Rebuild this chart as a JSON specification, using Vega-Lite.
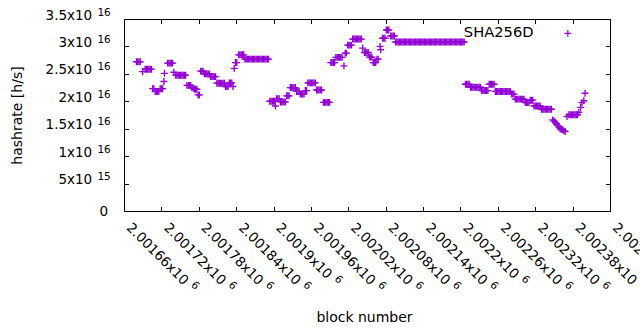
{
"$schema": "https://vega.github.io/schema/vega-lite/v6.json",
"width": 486, "height": 192,
"autosize": {"type": "none"},
"padding": {"left": 124, "top": 19, "right": 30, "bottom": 119},
"background": "white",
"config": {"view": {"stroke": "#000", "strokeWidth": 1}, "font": "DejaVu Sans",
  "axis": {"labelFont": "DejaVu Sans", "titleFont": "DejaVu Sans", "labelColor": "#000", "titleColor": "#000", "tickColor": "#000", "tickWidth": 1, "titleFontWeight": "normal", "grid": false, "domain": false, "labelFlush": false, "labelOverlap": false, "labelBound": false}},
"data": {"values": [
{"block":2001680,"hashrate":2.72e16},{"block":2001682,"hashrate":2.72e16},{"block":2001684,"hashrate":2.72e16},{"block":2001686,"hashrate":2.72e16},
{"block":2001690,"hashrate":2.54e16},
{"block":2001694,"hashrate":2.585e16},{"block":2001696,"hashrate":2.585e16},{"block":2001698,"hashrate":2.585e16},{"block":2001700,"hashrate":2.585e16},{"block":2001702,"hashrate":2.585e16},{"block":2001704,"hashrate":2.585e16},
{"block":2001706,"hashrate":2.23e16},{"block":2001708,"hashrate":2.23e16},
{"block":2001710,"hashrate":2.18e16},{"block":2001712,"hashrate":2.18e16},{"block":2001714,"hashrate":2.18e16},{"block":2001716,"hashrate":2.18e16},
{"block":2001718,"hashrate":2.23e16},{"block":2001720,"hashrate":2.23e16},{"block":2001722,"hashrate":2.23e16},
{"block":2001724,"hashrate":2.36e16},{"block":2001725,"hashrate":2.51e16},
{"block":2001730,"hashrate":2.695e16},{"block":2001732,"hashrate":2.695e16},{"block":2001734,"hashrate":2.695e16},{"block":2001736,"hashrate":2.695e16},{"block":2001738,"hashrate":2.695e16},
{"block":2001740,"hashrate":2.53e16},
{"block":2001743,"hashrate":2.476e16},{"block":2001745,"hashrate":2.476e16},{"block":2001747,"hashrate":2.476e16},{"block":2001749,"hashrate":2.476e16},{"block":2001751,"hashrate":2.476e16},{"block":2001753,"hashrate":2.476e16},{"block":2001755,"hashrate":2.476e16},{"block":2001757,"hashrate":2.476e16},{"block":2001759,"hashrate":2.476e16},
{"block":2001761,"hashrate":2.29e16},{"block":2001763,"hashrate":2.29e16},{"block":2001765,"hashrate":2.29e16},{"block":2001767,"hashrate":2.29e16},
{"block":2001769,"hashrate":2.245e16},{"block":2001771,"hashrate":2.245e16},
{"block":2001773,"hashrate":2.22e16},{"block":2001775,"hashrate":2.22e16},{"block":2001777,"hashrate":2.22e16},
{"block":2001779,"hashrate":2.116e16},{"block":2001781,"hashrate":2.116e16},
{"block":2001783,"hashrate":2.55e16},{"block":2001785,"hashrate":2.55e16},{"block":2001787,"hashrate":2.55e16},
{"block":2001789,"hashrate":2.5e16},{"block":2001791,"hashrate":2.5e16},{"block":2001793,"hashrate":2.5e16},{"block":2001795,"hashrate":2.5e16},{"block":2001797,"hashrate":2.5e16},
{"block":2001799,"hashrate":2.45e16},{"block":2001801,"hashrate":2.45e16},{"block":2001803,"hashrate":2.45e16},{"block":2001805,"hashrate":2.45e16},{"block":2001807,"hashrate":2.45e16},
{"block":2001809,"hashrate":2.33e16},{"block":2001811,"hashrate":2.33e16},{"block":2001813,"hashrate":2.33e16},{"block":2001815,"hashrate":2.33e16},{"block":2001817,"hashrate":2.33e16},{"block":2001819,"hashrate":2.33e16},{"block":2001821,"hashrate":2.33e16},
{"block":2001823,"hashrate":2.27e16},{"block":2001825,"hashrate":2.27e16},{"block":2001827,"hashrate":2.27e16},
{"block":2001829,"hashrate":2.335e16},{"block":2001831,"hashrate":2.335e16},{"block":2001833,"hashrate":2.335e16},
{"block":2001835,"hashrate":2.27e16},
{"block":2001837,"hashrate":2.6e16},
{"block":2001839,"hashrate":2.706e16},{"block":2001841,"hashrate":2.706e16},
{"block":2001844,"hashrate":2.847e16},{"block":2001846,"hashrate":2.847e16},{"block":2001848,"hashrate":2.847e16},{"block":2001850,"hashrate":2.847e16},{"block":2001852,"hashrate":2.847e16},
{"block":2001854,"hashrate":2.768e16},{"block":2001856,"hashrate":2.768e16},{"block":2001858,"hashrate":2.768e16},{"block":2001860,"hashrate":2.768e16},{"block":2001862,"hashrate":2.768e16},{"block":2001864,"hashrate":2.768e16},{"block":2001866,"hashrate":2.768e16},{"block":2001868,"hashrate":2.768e16},{"block":2001870,"hashrate":2.768e16},{"block":2001872,"hashrate":2.768e16},{"block":2001874,"hashrate":2.768e16},{"block":2001876,"hashrate":2.768e16},{"block":2001878,"hashrate":2.768e16},{"block":2001880,"hashrate":2.768e16},{"block":2001882,"hashrate":2.768e16},{"block":2001884,"hashrate":2.768e16},{"block":2001886,"hashrate":2.768e16},{"block":2001888,"hashrate":2.768e16},{"block":2001890,"hashrate":2.768e16},{"block":2001892,"hashrate":2.768e16},
{"block":2001894,"hashrate":2.0e16},{"block":2001896,"hashrate":2.0e16},{"block":2001898,"hashrate":2.0e16},{"block":2001900,"hashrate":2.0e16},{"block":2001902,"hashrate":2.0e16},
{"block":2001903,"hashrate":1.914e16},
{"block":2001905,"hashrate":2.048e16},{"block":2001907,"hashrate":2.048e16},{"block":2001909,"hashrate":2.048e16},
{"block":2001911,"hashrate":1.988e16},{"block":2001913,"hashrate":1.988e16},{"block":2001915,"hashrate":1.988e16},{"block":2001917,"hashrate":1.988e16},{"block":2001919,"hashrate":1.988e16},
{"block":2001921,"hashrate":2.1e16},{"block":2001923,"hashrate":2.1e16},{"block":2001925,"hashrate":2.1e16},
{"block":2001927,"hashrate":2.25e16},{"block":2001929,"hashrate":2.25e16},{"block":2001931,"hashrate":2.25e16},{"block":2001933,"hashrate":2.25e16},{"block":2001935,"hashrate":2.25e16},
{"block":2001937,"hashrate":2.18e16},{"block":2001939,"hashrate":2.18e16},{"block":2001941,"hashrate":2.18e16},
{"block":2001943,"hashrate":2.13e16},{"block":2001945,"hashrate":2.13e16},{"block":2001947,"hashrate":2.13e16},{"block":2001949,"hashrate":2.13e16},
{"block":2001951,"hashrate":2.195e16},{"block":2001953,"hashrate":2.195e16},
{"block":2001955,"hashrate":2.335e16},{"block":2001957,"hashrate":2.335e16},{"block":2001959,"hashrate":2.335e16},{"block":2001961,"hashrate":2.335e16},{"block":2001963,"hashrate":2.335e16},{"block":2001965,"hashrate":2.335e16},{"block":2001967,"hashrate":2.335e16},
{"block":2001969,"hashrate":2.205e16},{"block":2001971,"hashrate":2.205e16},{"block":2001973,"hashrate":2.205e16},{"block":2001975,"hashrate":2.205e16},{"block":2001977,"hashrate":2.205e16},
{"block":2001980,"hashrate":1.98e16},{"block":2001982,"hashrate":1.98e16},{"block":2001984,"hashrate":1.98e16},{"block":2001986,"hashrate":1.98e16},{"block":2001988,"hashrate":1.98e16},{"block":2001990,"hashrate":1.98e16},
{"block":2001992,"hashrate":2.706e16},{"block":2001994,"hashrate":2.706e16},{"block":2001996,"hashrate":2.706e16},{"block":2001998,"hashrate":2.706e16},
{"block":2002000,"hashrate":2.8e16},{"block":2002002,"hashrate":2.8e16},{"block":2002004,"hashrate":2.8e16},{"block":2002006,"hashrate":2.8e16},{"block":2002008,"hashrate":2.8e16},{"block":2002010,"hashrate":2.8e16},
{"block":2002013,"hashrate":2.646e16},
{"block":2002015,"hashrate":2.878e16},{"block":2002017,"hashrate":2.878e16},
{"block":2002019,"hashrate":3.024e16},{"block":2002021,"hashrate":3.024e16},{"block":2002023,"hashrate":3.024e16},{"block":2002025,"hashrate":3.024e16},
{"block":2002027,"hashrate":3.134e16},{"block":2002029,"hashrate":3.134e16},{"block":2002031,"hashrate":3.134e16},{"block":2002033,"hashrate":3.134e16},{"block":2002035,"hashrate":3.134e16},{"block":2002037,"hashrate":3.134e16},{"block":2002039,"hashrate":3.134e16},{"block":2002041,"hashrate":3.134e16},
{"block":2002043,"hashrate":2.97e16},
{"block":2002046,"hashrate":2.89e16},{"block":2002048,"hashrate":2.89e16},{"block":2002050,"hashrate":2.89e16},{"block":2002052,"hashrate":2.89e16},
{"block":2002054,"hashrate":2.805e16},{"block":2002056,"hashrate":2.805e16},{"block":2002058,"hashrate":2.805e16},
{"block":2002060,"hashrate":2.706e16},{"block":2002062,"hashrate":2.706e16},{"block":2002064,"hashrate":2.706e16},
{"block":2002066,"hashrate":2.768e16},{"block":2002068,"hashrate":2.768e16},
{"block":2002071,"hashrate":3.0e16},{"block":2002072,"hashrate":2.94e16},
{"block":2002075,"hashrate":3.15e16},{"block":2002077,"hashrate":3.15e16},{"block":2002079,"hashrate":3.15e16},
{"block":2002081,"hashrate":3.3e16},{"block":2002083,"hashrate":3.3e16},{"block":2002085,"hashrate":3.3e16},
{"block":2002088,"hashrate":3.19e16},{"block":2002090,"hashrate":3.19e16},{"block":2002092,"hashrate":3.19e16},{"block":2002094,"hashrate":3.19e16},
{"block":2002096,"hashrate":3.08e16},{"block":2002098,"hashrate":3.08e16},{"block":2002100,"hashrate":3.08e16},{"block":2002102,"hashrate":3.08e16},{"block":2002104,"hashrate":3.08e16},{"block":2002106,"hashrate":3.08e16},{"block":2002108,"hashrate":3.08e16},{"block":2002110,"hashrate":3.08e16},{"block":2002112,"hashrate":3.08e16},{"block":2002114,"hashrate":3.08e16},{"block":2002116,"hashrate":3.08e16},{"block":2002118,"hashrate":3.08e16},{"block":2002120,"hashrate":3.08e16},{"block":2002122,"hashrate":3.08e16},{"block":2002124,"hashrate":3.08e16},{"block":2002126,"hashrate":3.08e16},{"block":2002128,"hashrate":3.08e16},{"block":2002130,"hashrate":3.08e16},{"block":2002132,"hashrate":3.08e16},{"block":2002134,"hashrate":3.08e16},{"block":2002136,"hashrate":3.08e16},{"block":2002138,"hashrate":3.08e16},{"block":2002140,"hashrate":3.08e16},{"block":2002142,"hashrate":3.08e16},{"block":2002144,"hashrate":3.08e16},{"block":2002146,"hashrate":3.08e16},{"block":2002148,"hashrate":3.08e16},{"block":2002150,"hashrate":3.08e16},{"block":2002152,"hashrate":3.08e16},{"block":2002154,"hashrate":3.08e16},{"block":2002156,"hashrate":3.08e16},{"block":2002158,"hashrate":3.08e16},{"block":2002160,"hashrate":3.08e16},{"block":2002162,"hashrate":3.08e16},{"block":2002164,"hashrate":3.08e16},{"block":2002166,"hashrate":3.08e16},{"block":2002168,"hashrate":3.08e16},{"block":2002170,"hashrate":3.08e16},{"block":2002172,"hashrate":3.08e16},{"block":2002174,"hashrate":3.08e16},{"block":2002176,"hashrate":3.08e16},{"block":2002178,"hashrate":3.08e16},{"block":2002180,"hashrate":3.08e16},{"block":2002182,"hashrate":3.08e16},{"block":2002184,"hashrate":3.08e16},{"block":2002186,"hashrate":3.08e16},{"block":2002188,"hashrate":3.08e16},{"block":2002190,"hashrate":3.08e16},{"block":2002192,"hashrate":3.08e16},{"block":2002194,"hashrate":3.08e16},{"block":2002196,"hashrate":3.08e16},{"block":2002198,"hashrate":3.08e16},{"block":2002200,"hashrate":3.08e16},{"block":2002202,"hashrate":3.08e16},{"block":2002204,"hashrate":3.08e16},{"block":2002206,"hashrate":3.08e16},
{"block":2002208,"hashrate":2.31e16},{"block":2002210,"hashrate":2.31e16},{"block":2002212,"hashrate":2.31e16},{"block":2002214,"hashrate":2.31e16},
{"block":2002216,"hashrate":2.256e16},{"block":2002218,"hashrate":2.256e16},{"block":2002220,"hashrate":2.256e16},{"block":2002222,"hashrate":2.256e16},{"block":2002224,"hashrate":2.256e16},{"block":2002226,"hashrate":2.256e16},{"block":2002228,"hashrate":2.256e16},{"block":2002230,"hashrate":2.256e16},{"block":2002232,"hashrate":2.256e16},
{"block":2002234,"hashrate":2.195e16},{"block":2002236,"hashrate":2.195e16},{"block":2002238,"hashrate":2.195e16},{"block":2002240,"hashrate":2.195e16},{"block":2002242,"hashrate":2.195e16},{"block":2002244,"hashrate":2.195e16},
{"block":2002246,"hashrate":2.31e16},{"block":2002248,"hashrate":2.31e16},{"block":2002250,"hashrate":2.31e16},{"block":2002252,"hashrate":2.31e16},{"block":2002254,"hashrate":2.31e16},
{"block":2002256,"hashrate":2.18e16},{"block":2002258,"hashrate":2.18e16},{"block":2002260,"hashrate":2.18e16},{"block":2002262,"hashrate":2.18e16},{"block":2002264,"hashrate":2.18e16},{"block":2002266,"hashrate":2.18e16},{"block":2002268,"hashrate":2.18e16},{"block":2002270,"hashrate":2.18e16},{"block":2002272,"hashrate":2.18e16},{"block":2002274,"hashrate":2.18e16},{"block":2002276,"hashrate":2.18e16},{"block":2002278,"hashrate":2.18e16},{"block":2002280,"hashrate":2.18e16},
{"block":2002282,"hashrate":2.13e16},{"block":2002284,"hashrate":2.13e16},{"block":2002286,"hashrate":2.13e16},
{"block":2002288,"hashrate":2.04e16},{"block":2002290,"hashrate":2.04e16},{"block":2002292,"hashrate":2.04e16},{"block":2002294,"hashrate":2.04e16},{"block":2002296,"hashrate":2.04e16},{"block":2002298,"hashrate":2.04e16},{"block":2002300,"hashrate":2.04e16},{"block":2002302,"hashrate":2.04e16},
{"block":2002304,"hashrate":1.975e16},{"block":2002306,"hashrate":1.975e16},{"block":2002308,"hashrate":1.975e16},{"block":2002310,"hashrate":1.975e16},
{"block":2002312,"hashrate":2.02e16},{"block":2002314,"hashrate":2.02e16},{"block":2002316,"hashrate":2.02e16},
{"block":2002318,"hashrate":1.914e16},{"block":2002320,"hashrate":1.914e16},{"block":2002322,"hashrate":1.914e16},{"block":2002324,"hashrate":1.914e16},{"block":2002326,"hashrate":1.914e16},{"block":2002328,"hashrate":1.914e16},
{"block":2002330,"hashrate":1.854e16},{"block":2002332,"hashrate":1.854e16},{"block":2002334,"hashrate":1.854e16},{"block":2002336,"hashrate":1.854e16},{"block":2002338,"hashrate":1.854e16},{"block":2002340,"hashrate":1.854e16},{"block":2002342,"hashrate":1.854e16},{"block":2002344,"hashrate":1.854e16},{"block":2002346,"hashrate":1.854e16},
{"block":2002348,"hashrate":1.66e16},{"block":2002350,"hashrate":1.64e16},{"block":2002352,"hashrate":1.62e16},{"block":2002354,"hashrate":1.59e16},{"block":2002356,"hashrate":1.56e16},{"block":2002358,"hashrate":1.53e16},{"block":2002360,"hashrate":1.5e16},{"block":2002362,"hashrate":1.49e16},{"block":2002364,"hashrate":1.48e16},{"block":2002366,"hashrate":1.46e16},{"block":2002368,"hashrate":1.45e16},
{"block":2002371,"hashrate":1.72e16},
{"block":2002374,"hashrate":1.755e16},{"block":2002376,"hashrate":1.755e16},{"block":2002378,"hashrate":1.755e16},{"block":2002380,"hashrate":1.755e16},{"block":2002382,"hashrate":1.755e16},{"block":2002384,"hashrate":1.755e16},{"block":2002386,"hashrate":1.755e16},{"block":2002388,"hashrate":1.755e16},
{"block":2002390,"hashrate":1.8e16},
{"block":2002393,"hashrate":1.89e16},{"block":2002395,"hashrate":1.975e16},{"block":2002398,"hashrate":2.01e16},{"block":2002400,"hashrate":2.147e16}
]},
"encoding": {
  "x": {"field": "block", "type": "quantitative", "scale": {"domain": [2001660, 2002440], "nice": false, "zero": false}},
  "y": {"field": "hashrate", "type": "quantitative", "scale": {"domain": [0, 3.5e16], "nice": false, "zero": false}}
},
"layer": [
  {"mark": {"type": "point", "shape": "M-1,0H1M0,-1V1", "filled": false, "size": 48, "strokeWidth": 1.35, "opacity": 1},
   "encoding": {
     "x": {"field": "block", "type": "quantitative", "axis": {"orient": "bottom",
        "values": [2001660,2001720,2001780,2001840,2001900,2001960,2002020,2002080,2002140,2002200,2002260,2002320,2002380,2002440],
        "labelExpr": "format(datum.value/1e6,'.6~g')+'x10'",
        "labelAngle": 45, "labelAlign": "left", "labelBaseline": "alphabetic", "labelFontSize": 13.5,
        "labelPadding": 21.5, "labelOffset": 1.3, "tickSize": -4.5,
        "title": "block number", "titleFontSize": 14, "titleX": 240, "titleY": 106.5, "titleBaseline": "middle", "titleAlign": "center", "titleAnchor": null}},
     "y": {"field": "hashrate", "type": "quantitative", "axis": {"orient": "left",
        "values": [0,5e15,1e16,1.5e16,2e16,2.5e16,3e16,3.5e16],
        "labelExpr": "datum.value==0?'0':(datum.value<1e16?format(datum.value/1e15,'~g'):format(datum.value/1e16,'~g'))+'x10'",
        "labelFontSize": 13.5, "labelAlign": "right", "labelBaseline": "middle",
        "labelPadding": {"condition": {"test": "datum.value==0", "value": 21}, "value": 36.8},
        "labelOffset": {"condition": {"test": "datum.value==0", "value": 0}, "value": -4},
        "tickSize": -4.5,
        "title": "hashrate [h/s]", "titleFontSize": 14, "titleX": -107, "titleY": 96, "titleBaseline": "middle", "titleAngle": 270, "titleAlign": "center", "titleAnchor": null}},
     "color": {"datum": "SHA256D", "type": "nominal", "scale": {"range": ["#9400d3"]},
        "legend": {"orient": "none", "legendX": 436.5, "legendY": 7, "title": null, "padding": 0,
          "labelFont": "DejaVu Sans", "labelFontSize": 14.7, "labelColor": "#000", "labelAlign": "right", "labelOffset": -41.6,
          "symbolType": "M-1,0H1M0,-1V1", "symbolSize": 48, "symbolStrokeWidth": 1.2, "symbolStrokeColor": "#9400d3", "symbolFillColor": "transparent"}}
   }},
  {"mark": {"type": "point", "opacity": 0},
   "encoding": {
     "x": {"field": "block", "type": "quantitative", "axis": {"orient": "top", "values": [2001660,2001720,2001780,2001840,2001900,2001960,2002020,2002080,2002140,2002200,2002260,2002320,2002380,2002440], "labels": false, "tickSize": -4.5, "title": null}},
     "y": {"field": "hashrate", "type": "quantitative", "axis": {"orient": "right", "values": [0,5e15,1e16,1.5e16,2e16,2.5e16,3e16,3.5e16], "labels": false, "tickSize": -4.5, "title": null}}
   }},
  {"mark": {"type": "point", "opacity": 0},
   "encoding": {
     "x": {"field": "block", "type": "quantitative", "axis": {"orient": "bottom",
        "values": [2001660,2001720,2001780,2001840,2001900,2001960,2002020,2002080,2002140,2002200,2002260,2002320,2002380,2002440],
        "labelExpr": "'6'", "labelAngle": 45, "labelAlign": "left", "labelBaseline": "alphabetic", "labelFontSize": 10.5, "ticks": false,
        "labelPadding": {"condition": {"test": "datum.value==2001900||datum.value==2002200", "value": 68}, "value": 74},
        "labelOffset": {"condition": {"test": "datum.value==2001900||datum.value==2002200", "value": 60}, "value": 66},
        "title": null}},
     "y": {"field": "hashrate", "type": "quantitative", "axis": {"orient": "left",
        "values": [0,5e15,1e16,1.5e16,2e16,2.5e16,3e16,3.5e16],
        "labelExpr": "datum.value==0?'':(datum.value<1e16?'15':'16')",
        "labelFontSize": 10.5, "labelAlign": "right", "labelBaseline": "middle", "ticks": false,
        "labelPadding": 13.7, "labelOffset": -7, "title": null}}
   }}
],
"resolve": {"axis": {"x": "independent", "y": "independent"}}
}
